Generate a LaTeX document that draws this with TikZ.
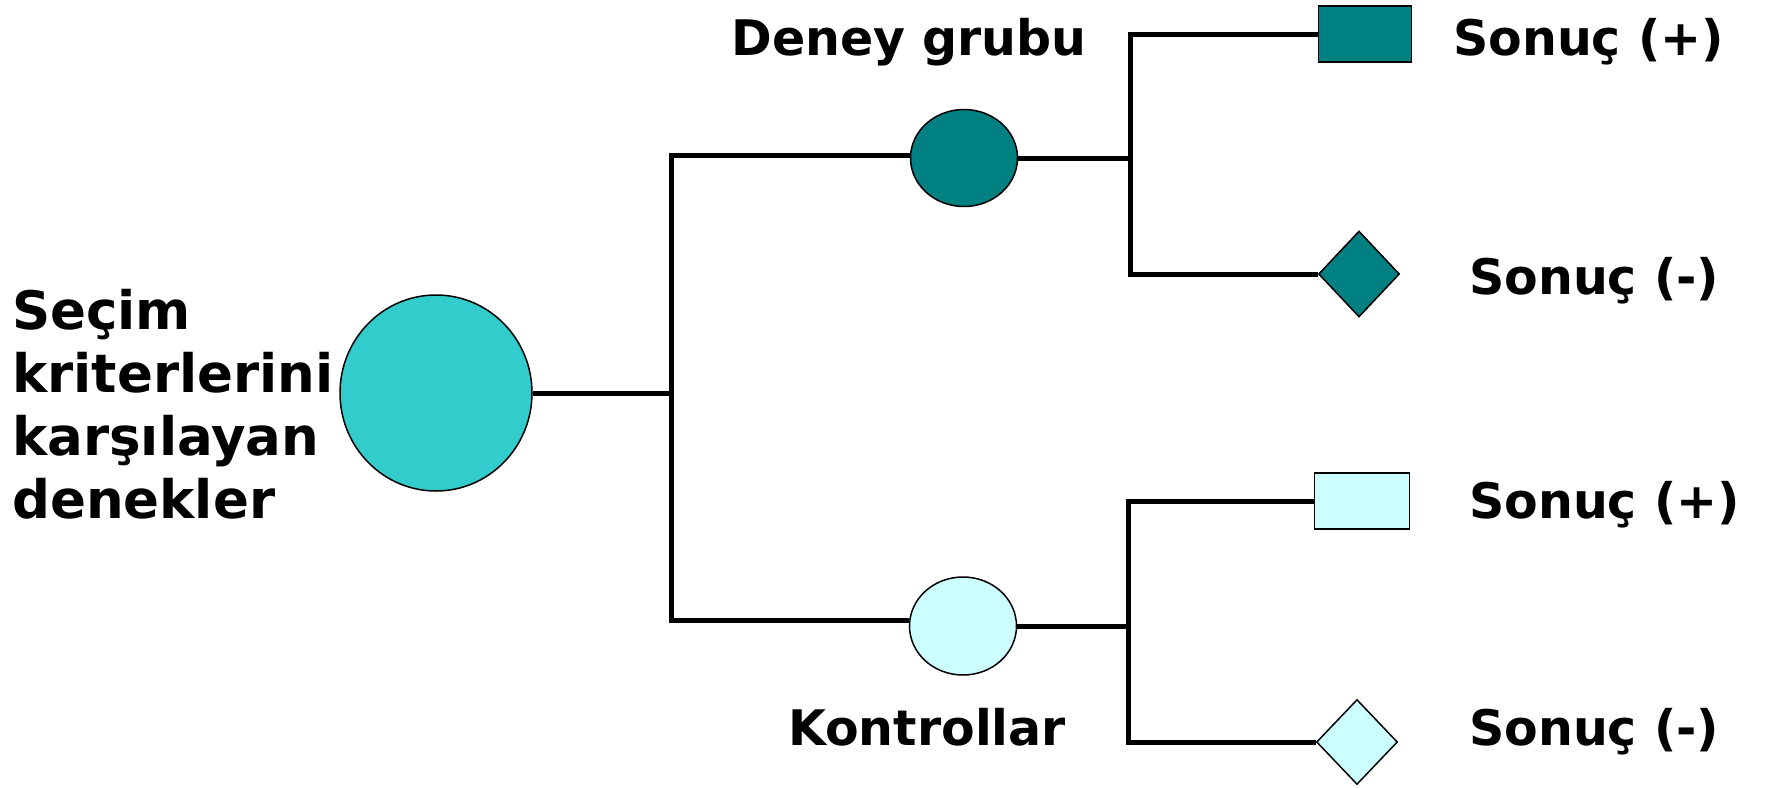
\documentclass[tikz,border=0pt]{standalone}
\usepackage{fontspec}
\setmainfont{DejaVu Sans}
\usetikzlibrary{shapes.geometric}
\definecolor{teal1}{HTML}{008080}
\definecolor{cyan1}{HTML}{33CCCC}
\definecolor{light1}{HTML}{CCFFFF}
\tikzset{
  conn/.style={line width=5pt, black},
  shp/.style={draw=black, line width=1.5pt, inner sep=0pt},
  lbl/.style={font=\fontsize{49}{63}\selectfont\bfseries, inner sep=0pt},
}
\begin{document}
\begin{tikzpicture}[x=1pt,y=-1pt]
\useasboundingbox (0,0) rectangle (1769,787);
% nodes
\node[shp, ellipse, fill=cyan1, minimum width=192pt, minimum height=196pt] (root) at (436,393) {};
\node[shp, ellipse, fill=teal1, minimum width=107pt, minimum height=97pt] (deney) at (964,158) {};
\node[shp, ellipse, fill=light1, minimum width=107pt, minimum height=98pt] (kontrol) at (963,626) {};
\node[shp, rectangle, fill=teal1, minimum width=93pt, minimum height=56pt] (sq1) at (1365,34) {};
\node[shp, diamond, fill=teal1, minimum width=81pt, minimum height=86pt] (dm1) at (1359,274) {};
\node[shp, rectangle, fill=light1, minimum width=95pt, minimum height=56pt] (sq2) at (1362,501) {};
\node[shp, diamond, fill=light1, minimum width=81pt, minimum height=85pt] (dm2) at (1357,742) {};
% junctions
\coordinate (j0) at (671.5,393);
\coordinate (j1) at (1130,158);
\coordinate (j2) at (1128,626);
% connectors
\draw[conn] (root.east) -- (j0);
\draw[conn] (j0) |- ([yshift=3pt]deney.west);
\draw[conn] (j0) |- ([yshift=6pt]kontrol.west);
\draw[conn] (deney.east) -- (j1);
\draw[conn] (j1) |- (sq1.west);
\draw[conn] (j1) |- (dm1.west);
\draw[conn] (kontrol.east) -- (j2);
\draw[conn] (j2) |- (sq2.west);
\draw[conn] (j2) |- (dm2.west);
% labels
\node[lbl, font=\fontsize{53}{63}\selectfont\bfseries, anchor=west, align=left] (lefttxt) at (12,404) {Seçim\\kriterlerini\\karşılayan\\denekler};
\node[lbl, anchor=base] (tdeney) at (909,55) {Deney grubu};
\node[lbl, anchor=base] (tkontrol) at (927,745) {Kontrollar};
\node[lbl, anchor=base west] (s1) at (1453,55) {Sonuç (+)};
\node[lbl, anchor=base west] (s2) at (1469,294) {Sonuç (-)};
\node[lbl, anchor=base west] (s3) at (1469,518) {Sonuç (+)};
\node[lbl, anchor=base west] (s4) at (1469,745) {Sonuç (-)};
\end{tikzpicture}
\end{document}
